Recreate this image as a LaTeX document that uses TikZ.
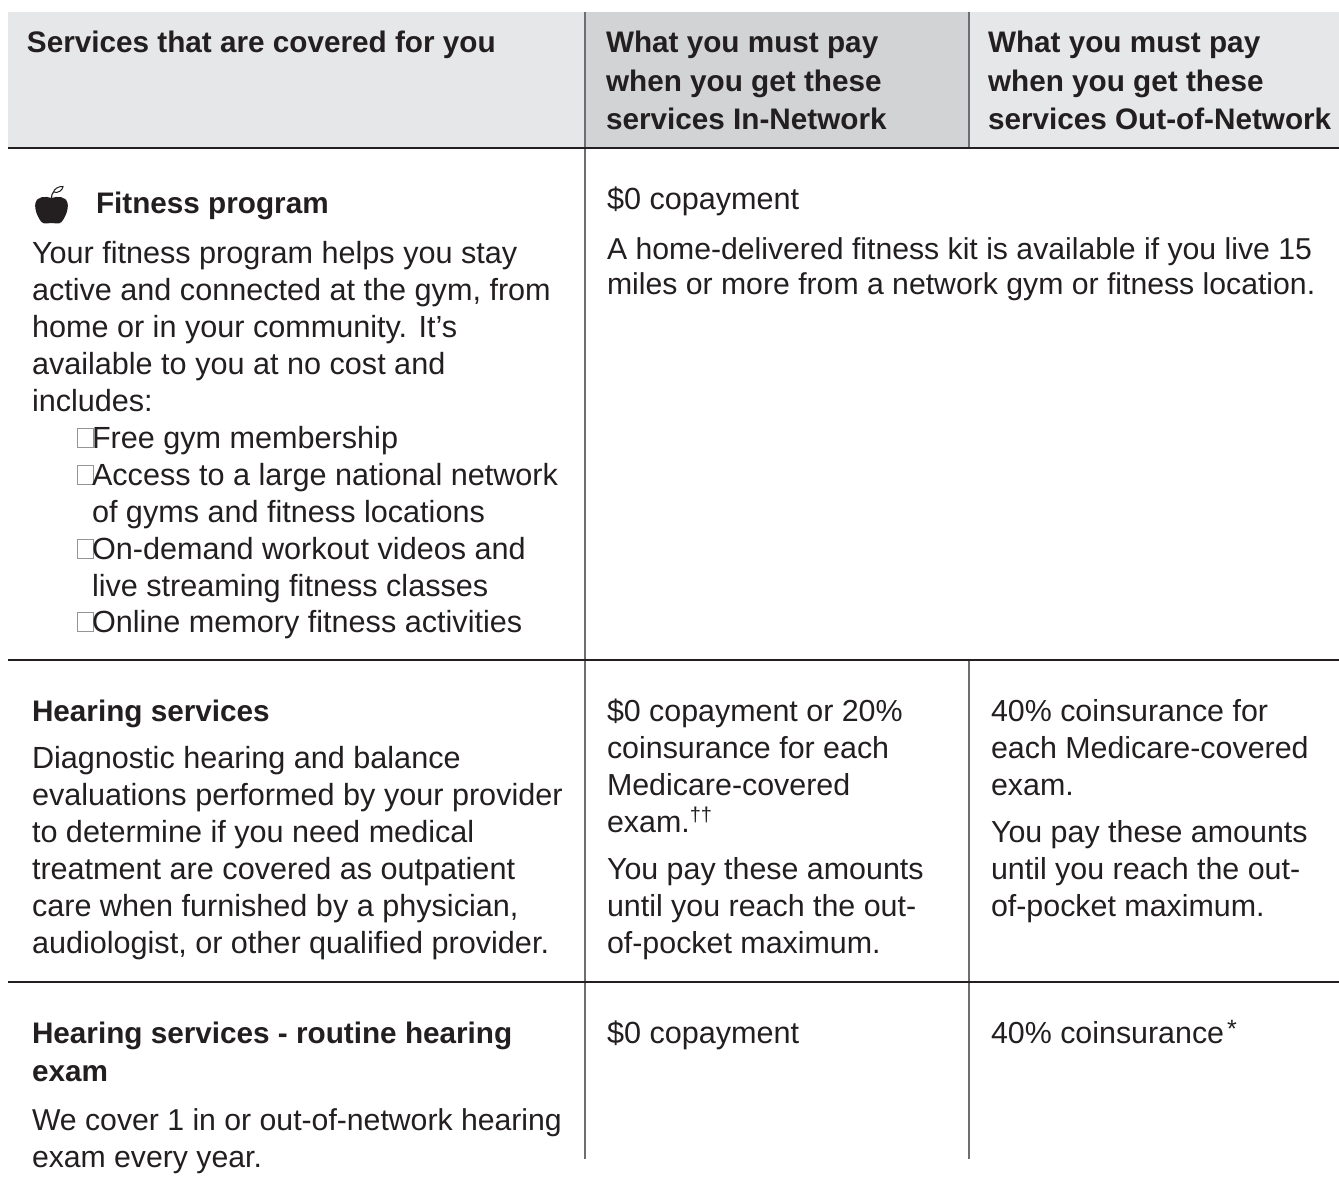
\documentclass[tikz,border=0pt]{standalone}
\usepackage{fontspec}
\setmainfont{Liberation Sans}
\definecolor{ink}{HTML}{231F20}
\definecolor{bandA}{HTML}{E6E7E8}
\definecolor{bandB}{HTML}{D1D3D4}
\definecolor{rulegray}{HTML}{6D6E71}
\definecolor{boxgray}{HTML}{939598}
\tikzset{
  txt/.style={anchor=base west,inner sep=0pt,outer sep=0pt,text=ink,font=\fontsize{30.4}{37}\selectfont},
  txtl/.style={txt,font=\fontsize{30.6}{37}\selectfont},
  txtw/.style={txt,font=\fontsize{30.2}{37}\selectfont},
  bld/.style={txt,font=\fontsize{29.7}{37}\selectfont\bfseries},
  rulev/.style={draw=rulegray,line width=2pt},
  ruleh/.style={draw=ink,line width=1.3pt},
  glyphbox/.style={draw=boxgray,line width=0.9pt,fill=none}
}
\begin{document}
\begin{tikzpicture}[x=1pt,y=-1pt]
\useasboundingbox (0,0) rectangle (1339,1187);
\fill[white] (0,0) rectangle (1339,1187);
\fill[bandA] (8,12) rectangle (585,148);
\fill[bandB] (585,12) rectangle (969,148);
\fill[bandA] (969,12) rectangle (1339,148);
\coordinate (t1) at (585,12); \coordinate (b1) at (585,1159);
\coordinate (t2) at (969,12); \coordinate (m2) at (969,148);
\coordinate (n2) at (969,660); \coordinate (b2) at (969,1159);
\coordinate (hl) at (8,148); \coordinate (hr) at (1339,148);
\coordinate (al) at (8,660); \coordinate (ar) at (1339,660);
\coordinate (cl) at (8,982); \coordinate (cr) at (1339,982);
\draw[rulev] (t1) -- (b1);
\draw[rulev] (t2) -- (m2);
\draw[rulev] (n2) -- (b2);
\draw[ruleh] (hl) -- (hr);
\draw[ruleh] (al) -- (ar);
\draw[ruleh] (cl) -- (cr);
% header
\node[bld] (h1) at (27,52) {Services that are covered for you};
\node[bld] (h2a) at (606,52) {What you must pay};
\node[bld] (h2b) at (606,91) {when you get these};
\node[bld] (h2c) at (606,129) {services In-Network};
\node[bld] (h3a) at (988,52) {What you must pay};
\node[bld] (h3b) at (988,91) {when you get these};
\node[bld] (h3c) at (988,129) {services Out-of-Network};
% apple
\fill[ink] (51.5,198) .. controls (46,196) and (37,196) .. (35.5,203)
  .. controls (34,209) and (38,218) .. (41.5,222) .. controls (44,224.5) and (48,223) .. (51.5,223)
  .. controls (55,223) and (59,224.5) .. (61.5,222) .. controls (65,218) and (69,209) .. (67.5,203)
  .. controls (66,196) and (57,196) .. (51.5,198) -- cycle;
\draw[ink,line width=1.1pt] (51.5,198) .. controls (51.5,195) and (52,194) .. (53.5,192);
\draw[ink,line width=1pt] (53.5,192) .. controls (54,189) and (59,186) .. (63,186.5) .. controls (63,189.5) and (58,194) .. (53.5,192) -- cycle;
% fitness
\node[bld] (f0) at (96,213) {Fitness program};
\node[txtl] (f1) at (32,263) {Your fitness program helps you stay};
\node[txtl] (f2) at (32,300) {active and connected at the gym, from};
\node[txtl] (f3) at (32,337) {home or in your community. It’s};
\node[txtl] (f4) at (32,374) {available to you at no cost and};
\node[txtl] (f5) at (32,411) {includes:};
\foreach \y in {448,485,559,632} \draw[glyphbox] (77.5,\y-20) rectangle (93.5,\y-1);
\node[txtl] (f6) at (92,448) {Free gym membership};
\node[txtl] (f7) at (92,485) {Access to a large national network};
\node[txtl] (f8) at (92,522) {of gyms and fitness locations};
\node[txtl] (f9) at (92,559) {On-demand workout videos and};
\node[txtl] (f10) at (92,596) {live streaming fitness classes};
\node[txtl] (f11) at (92,632) {Online memory fitness activities};
\node[txtl] (g1) at (607,209) {\$0 copayment};
\node[txtw] (g2) at (607,259) {A home-delivered fitness kit is available if you live 15};
\node[txtw] (g3) at (607,294) {miles or more from a network gym or fitness location.};
% hearing
\node[bld] (s0) at (32,721) {Hearing services};
\node[txtl] (s1) at (32,768) {Diagnostic hearing and balance};
\node[txtl] (s2) at (32,805) {evaluations performed by your provider};
\node[txtl] (s3) at (32,842) {to determine if you need medical};
\node[txtl] (s4) at (32,879) {treatment are covered as outpatient};
\node[txtl] (s5) at (32,916) {care when furnished by a physician,};
\node[txtl] (s6) at (32,953) {audiologist, or other qualified provider.};
\node[txt] (m1) at (607,721) {\$0 copayment or 20\%};
\node[txt] (m2t) at (607,758) {coinsurance for each};
\node[txt] (m3) at (607,795) {Medicare-covered};
\node[txt] (m4) at (607,832) {exam.\raisebox{11pt}{\fontsize{20}{20}\selectfont††}};
\node[txt] (m5) at (607,879) {You pay these amounts};
\node[txt] (m6) at (607,916) {until you reach the out-};
\node[txt] (m7) at (607,953) {of-pocket maximum.};
\node[txt] (r1) at (991,721) {40\% coinsurance for};
\node[txt] (r2) at (991,758) {each Medicare-covered};
\node[txt] (r3) at (991,795) {exam.};
\node[txt] (r4) at (991,842) {You pay these amounts};
\node[txt] (r5) at (991,879) {until you reach the out-};
\node[txt] (r6) at (991,916) {of-pocket maximum.};
% routine
\node[bld] (e0) at (32,1043) {Hearing services - routine hearing};
\node[bld] (e1) at (32,1081) {exam};
\node[txtw] (e2) at (32,1130) {We cover 1 in or out-of-network hearing};
\node[txtw] (e3) at (32,1167) {exam every year.};
\node[txtl] (e4) at (607,1043) {\$0 copayment};
\node[txt] (e5) at (991,1043) {40\% coinsurance\hspace{3pt}\raisebox{6pt}{\fontsize{25}{25}\selectfont *}};
\end{tikzpicture}
\end{document}
